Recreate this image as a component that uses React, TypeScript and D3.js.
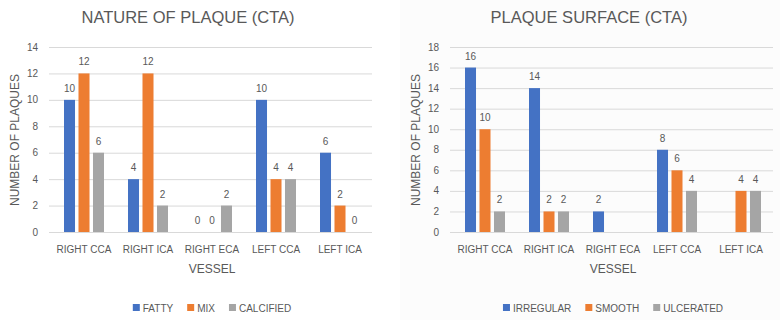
import React, { useEffect, useRef } from 'react';
import * as d3 from 'd3';

const vessels = ['RIGHT CCA', 'RIGHT ICA', 'RIGHT ECA', 'LEFT CCA', 'LEFT ICA'];

const natureSeries = ['FATTY', 'MIX', 'CALCIFIED'];
const fatty = [10, 4, 0, 10, 6];
const mix = [12, 12, 0, 4, 2];
const calcified = [6, 2, 2, 4, 0];
const natureTicks = [0, 2, 4, 6, 8, 10, 12, 14];

const surfaceSeries = ['IRREGULAR', 'SMOOTH', 'ULCERATED'];
const irregular = [16, 14, 2, 8, null];
const smooth = [10, 2, null, 6, 4];
const ulcerated = [2, 2, null, 4, 4];
const surfaceTicks = [0, 2, 4, 6, 8, 10, 12, 14, 16, 18];

const colors = ['#4472C4', '#ED7D31', '#A5A5A5'];
const FONT = '"Liberation Sans", Arial, sans-serif';
const TEXT = '#595959';

type Chart = {
  title: string;
  series: string[];
  values: (number | null)[][];
  ticks: number[];
  left: number;
  right: number;
  titleX: number;
  yTitleX: number;
};

function drawChart(svg: d3.Selection<SVGSVGElement, unknown, null, undefined>, c: Chart) {
  const top = 47, bottom = 232;
  const g = svg.append('g');

  const x0 = d3.scaleBand<string>().domain(vessels).range([c.left, c.right]);
  const bw = x0.bandwidth();
  const x1 = d3.scaleBand<string>().domain(c.series)
    .range([bw / 2 - 20, bw / 2 + 20]).paddingInner(0.24);
  const y = d3.scaleLinear().domain([0, d3.max(c.ticks)!]).range([bottom, top]);

  g.append('text').attr('x', c.titleX).attr('y', 23).attr('text-anchor', 'middle')
    .attr('font-size', 16.5).attr('fill', TEXT).attr('font-family', FONT).text(c.title);

  g.selectAll('.grid').data(c.ticks).enter().append('line')
    .attr('x1', c.left - 3).attr('x2', c.right)
    .attr('y1', d => y(d) + 0.5).attr('y2', d => y(d) + 0.5)
    .attr('stroke', '#d9d9d9').attr('stroke-width', 1);

  g.selectAll('.tick').data(c.ticks).enter().append('text')
    .attr('x', c.left - 14).attr('y', d => y(d)).attr('dy', '0.35em')
    .attr('text-anchor', 'end').attr('font-size', 10).attr('fill', TEXT)
    .attr('font-family', FONT).text(d => d);

  c.series.forEach((s, si) => {
    const pts = vessels
      .map((v, i) => ({ v, val: c.values[si][i] }))
      .filter(d => d.val != null) as { v: string; val: number }[];
    const sg = g.append('g');
    sg.selectAll('rect').data(pts.filter(d => d.val > 0)).enter().append('rect')
      .attr('x', d => x0(d.v)! + x1(s)!).attr('width', x1.bandwidth())
      .attr('y', d => y(d.val)).attr('height', d => bottom - y(d.val))
      .attr('fill', colors[si]);
    sg.selectAll('text').data(pts).enter().append('text')
      .attr('x', d => x0(d.v)! + x1(s)! + x1.bandwidth() / 2)
      .attr('y', d => y(d.val) - 8)
      .attr('text-anchor', 'middle').attr('font-size', 10).attr('fill', TEXT)
      .attr('font-family', FONT).text(d => String(d.val));
  });

  g.selectAll('.cat').data(vessels).enter().append('text')
    .attr('x', d => x0(d)! + bw / 2).attr('y', 253).attr('text-anchor', 'middle')
    .attr('font-size', 10).attr('fill', TEXT).attr('font-family', FONT).text(d => d);

  g.append('text').attr('x', (c.left + c.right) / 2).attr('y', 273).attr('text-anchor', 'middle')
    .attr('font-size', 12).attr('fill', TEXT).attr('font-family', FONT).text('VESSEL');

  g.append('text').attr('transform', `translate(${c.yTitleX},140) rotate(-90)`)
    .attr('text-anchor', 'middle').attr('dy', '0.35em')
    .attr('font-size', 12).attr('fill', TEXT).attr('font-family', FONT).text('NUMBER OF PLAQUES');

  // legend, centred under the plot
  const leg = g.append('g');
  let cx = 0;
  c.series.forEach((s, si) => {
    const item = leg.append('g').attr('transform', `translate(${cx},0)`);
    item.append('rect').attr('x', 0).attr('y', -4).attr('width', 7).attr('height', 7).attr('fill', colors[si]);
    const t = item.append('text').attr('x', 10).attr('y', 0).attr('dy', '0.35em')
      .attr('font-size', 10).attr('fill', TEXT).attr('font-family', FONT).text(s);
    cx += 10 + (t.node() as SVGTextElement).getComputedTextLength() + 14;
  });
  const legW = cx - 14;
  leg.attr('transform', `translate(${(c.left + c.right) / 2 - legW / 2},308)`);
}

export default function App() {
  const ref = useRef<SVGSVGElement>(null);

  useEffect(() => {
    document.body.style.margin = '0';
    const svg = d3.select(ref.current!);
    svg.selectAll('*').remove();

    svg.append('rect').attr('x', 400).attr('y', 0).attr('width', 380).attr('height', 320).attr('fill', '#fcfcfc');

    drawChart(svg, {
      title: 'NATURE OF PLAQUE (CTA)',
      series: natureSeries,
      values: [fatty, mix, calcified],
      ticks: natureTicks,
      left: 52, right: 372, titleX: 188, yTitleX: 15,
    });
    drawChart(svg, {
      title: 'PLAQUE SURFACE (CTA)',
      series: surfaceSeries,
      values: [irregular, smooth, ulcerated],
      ticks: surfaceTicks,
      left: 453, right: 773, titleX: 589, yTitleX: 416,
    });
  }, []);

  return <svg ref={ref} width={780} height={320} style={{ display: 'block', background: '#fff' }} />;
}
